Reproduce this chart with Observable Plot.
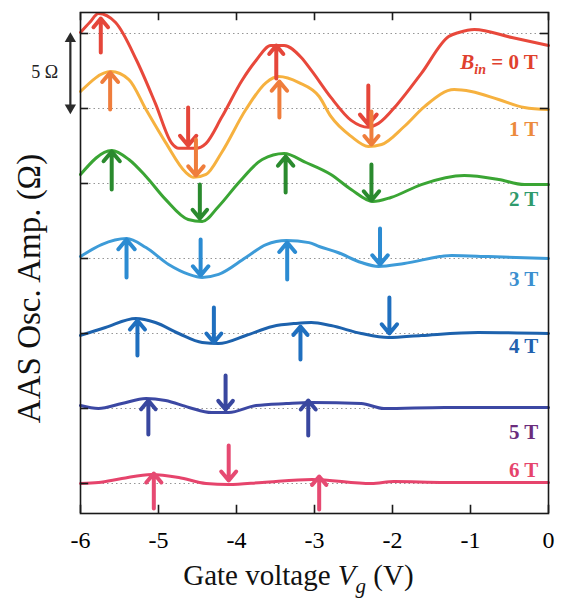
<!DOCTYPE html>
<html><head><meta charset="utf-8">
<script src="https://cdn.jsdelivr.net/npm/d3@7"></script>
<script src="https://cdn.jsdelivr.net/npm/@observablehq/plot@0.6"></script>
<style>body{margin:0;background:#fff}</style>
</head><body><div id="chart"></div>
<script>
// ---- data ----
const fields = ["0 T","1 T","2 T","3 T","4 T","5 T","6 T"];
const offsets = [30,25,20,15,10,5,0];           // vertical offset (Ω) of each trace
const xTicks = [-6,-5,-4,-3,-2,-1,0];
const lineColors  = ["#e8483b","#f6b13f","#3aa534","#3d9bd8","#1d62ad","#3c48a3","#e6446c"];
const arrowColors = ["#e5463a","#ef7d3c","#2a8a2e","#2b8bd2","#1f6fbf","#39479f","#e64a72"];
const labelColors = ["#e0402e","#ec8a3c","#2f9a6c","#3b8fcf","#2161ae","#6b2c7c","#e6446c"];
const labelRel = [-1.93,-1.4,-1.07,-1.4,-0.87,-1.6,0.87];
const labelX = -0.13;
const scaleBarOhm = [24.85, 29.85];
const scaleBarX = -6.13;
const xDomain = [-6, 0];
const yDomain = [-2, 31.4];
const tickLenX = 0.105;   // V  (inward tick length on y-axes)
const tickLenY = 0.55;    // Ω  (inward tick length on x-axes)

// traces: [Vg (V), amplitude relative to own baseline (Ω)]
const curve0 = [[-6,0.07],[-5.88,0.75],[-5.77,1.33],[-5.55,0.73],[-5.28,-1.8],[-5.04,-4.66],[-4.83,-7.32],[-4.74,-7.65],[-4.52,-7.65],[-4.39,-7.32],[-4.19,-5.59],[-3.93,-3.13],[-3.75,-1.8],[-3.56,-0.8],[-3.39,-0.8],[-3.17,-1.6],[-3.04,-2.46],[-2.79,-4.26],[-2.53,-5.79],[-2.31,-6.25],[-2.18,-5.99],[-1.93,-4.66],[-1.63,-2.66],[-1.28,-0.2],[-1.15,0.07],[-0.95,0.27],[-0.47,-0.27],[0,-0.8]];
const curve1 = [[-6,1.13],[-5.61,2.46],[-5.38,1.93],[-5.16,-0.07],[-4.91,-2.26],[-4.65,-4.26],[-4.55,-4.59],[-4.39,-4.39],[-4.19,-2.93],[-3.88,-0.07],[-3.62,1.73],[-3.46,2.13],[-3.2,1.73],[-2.94,0.8],[-2.79,-0.53],[-2.53,-1.86],[-2.31,-2.53],[-2.14,-2.4],[-1.85,-1.2],[-1.59,0.13],[-1.21,1.26],[-0.99,1.13],[-0.64,0.6],[-0.31,0.07],[0,-0.07]];
const curve2 = [[-6,0.6],[-5.6,2.2],[-5.38,1.6],[-5.16,0.47],[-4.91,-1.06],[-4.62,-2.4],[-4.44,-2.53],[-4.23,-1.53],[-3.97,0.07],[-3.67,1.6],[-3.39,2.0],[-3.11,1.4],[-2.79,0.6],[-2.53,-0.4],[-2.25,-1.2],[-2.02,-0.93],[-1.63,-0.07],[-1.08,0.53],[-0.64,0.27],[-0.31,-0.07],[0,-0.07]];
const curve3 = [[-6,0.13],[-5.73,0.93],[-5.41,1.33],[-5.16,0.73],[-4.87,-0.4],[-4.61,-1.06],[-4.44,-1.26],[-4.23,-1.06],[-3.88,0.07],[-3.62,0.93],[-3.36,1.2],[-3.07,1.06],[-2.94,0.8],[-2.7,0.4],[-2.4,-0.27],[-2.18,-0.53],[-1.85,-0.33],[-1.24,0.2],[-0.77,0.13],[0,0]];
const curve4 = [[-6,-0.13],[-5.68,0.4],[-5.29,1.0],[-5.04,0.73],[-4.74,0],[-4.44,-0.6],[-4.23,-0.67],[-3.88,-0.13],[-3.54,0.47],[-3.24,0.67],[-3.04,0.73],[-2.79,0.53],[-2.4,0],[-2.05,-0.27],[-1.63,-0.13],[-0.9,0.07],[0,0]];
const curve5 = [[-6,0.2],[-5.77,0],[-5.47,0.33],[-5.16,0.67],[-4.91,0.53],[-4.61,0.07],[-4.32,-0.27],[-4.1,-0.27],[-3.75,0.2],[-3.36,0.33],[-3.04,0.4],[-2.4,0.33],[-2.11,0],[-1.33,0.07],[0,0.07]];
const curve6 = [[-6,0],[-5.77,0.07],[-5.47,0.33],[-5.09,0.6],[-4.74,0.4],[-4.39,0],[-4.1,-0.07],[-3.67,0.07],[-3.03,0.27],[-2.27,0],[-1.98,0.13],[-1.33,0.07],[0,0.07]];

// arrows: [Vg (V), tail (Ω rel), tip (Ω rel)]
const arrows0 = [[-5.74,-1.27,1.0],[-3.49,-3.0,-0.8],[-4.62,-4.93,-7.47],[-2.31,-3.47,-6.07]];
const arrows1 = [[-5.62,-0.07,2.4],[-3.45,-0.6,1.8],[-4.52,-2.07,-4.47],[-2.27,-0.2,-2.4]];
const arrows2 = [[-5.6,-0.4,2.13],[-3.37,-0.6,1.8],[-4.47,-0.07,-2.33],[-2.27,1.27,-1.13]];
const arrows3 = [[-5.41,-1.27,1.27],[-3.35,-1.4,1.07],[-4.46,1.27,-1.13],[-2.16,2.0,-0.4]];
const arrows4 = [[-5.27,-1.47,0.87],[-3.18,-1.73,0.47],[-4.29,1.73,-0.6],[-2.04,2.4,0]];
const arrows5 = [[-5.13,-1.73,0.53],[-3.08,-1.8,0.53],[-4.14,2.2,-0.07]];
const arrows6 = [[-5.06,-1.67,0.67],[-2.94,-1.73,0.47],[-4.1,2.53,0.2]];

const curves = [curve0,curve1,curve2,curve3,curve4,curve5,curve6];
const arrowSets = [arrows0,arrows1,arrows2,arrows3,arrows4,arrows5,arrows6];

// ---- derived tables ----
const lineData = curves.flatMap((c,i)=>c.map(([v,a])=>({b:fields[i], V:v, amp:a+offsets[i], color:lineColors[i]})));
const arrowData = arrowSets.flatMap((s,i)=>s.map(([v,t,p])=>({b:fields[i], V:v, tail:t+offsets[i], tip:p+offsets[i], color:arrowColors[i]})));
const labelData = fields.slice(1).map((f,j)=>({t:f, y:offsets[j+1]+labelRel[j+1], color:labelColors[j+1]}));

const serif = "'Liberation Serif','Times New Roman',serif";
const axisInk = "#1a1a1a";

const plot = Plot.plot({
  width: 564, height: 601,
  marginLeft: 80, marginRight: 16, marginTop: 12, marginBottom: 88,
  style: {fontFamily: serif, background: "#fff", overflow: "visible"},
  x: {domain: xDomain},
  y: {domain: yDomain, axis: null},
  color: {type: "identity"},
  marks: [
    Plot.ruleY(offsets, {stroke: "#8a8a8a", strokeWidth: 0.9, strokeDasharray: "1.5,3"}),
    Plot.line(lineData, {x: "V", y: "amp", z: "b", stroke: "color", strokeWidth: 3, curve: "monotone-x"}),
    Plot.arrow(arrowData, {x1: "V", x2: "V", y1: "tail", y2: "tip", stroke: "color", strokeWidth: 4, headLength: 13, headAngle: 80}),
    Plot.text(labelData, {x: labelX, y: "y", text: "t", fill: "color", textAnchor: "end", fontSize: 21, fontWeight: "bold"}),
    Plot.frame({stroke: axisInk, strokeWidth: 1.6}),
    Plot.axisX({anchor: "bottom", ticks: xTicks, tickSize: 0, tickPadding: 17, tickFormat: d => String(d), fontSize: 24, label: null}),
    // inward ticks
    Plot.ruleX(xTicks, {x: d => d, y1: yDomain[0], y2: yDomain[0] + tickLenY, stroke: axisInk, strokeWidth: 1.6}),
    Plot.ruleX(xTicks, {x: d => d, y1: yDomain[1] - tickLenY, y2: yDomain[1], stroke: axisInk, strokeWidth: 1.6}),
    Plot.ruleY(offsets, {y: d => d, x1: xDomain[0], x2: xDomain[0] + tickLenX, stroke: axisInk, strokeWidth: 1.6}),
    Plot.ruleY(offsets.slice(0, 2), {y: d => d, x1: xDomain[1] - tickLenX, x2: xDomain[1], stroke: axisInk, strokeWidth: 1.6}),
    // scale bar
    Plot.link([scaleBarOhm], {x1: scaleBarX, x2: scaleBarX, y1: d => d[0], y2: d => d[1], stroke: "#2b2b2b", strokeWidth: 2.2}),
    Plot.dot([scaleBarOhm[1]], {x: scaleBarX, y: d => d, symbol: "triangle", r: 4.2, fill: "#2b2b2b", stroke: null, dy: 3}),
    Plot.dot([scaleBarOhm[0]], {x: scaleBarX, y: d => d, symbol: "triangle", r: 4.2, fill: "#2b2b2b", stroke: null, rotate: 180, dy: -3}),
    Plot.text(["5 Ω"], {x: -6.46, y: (scaleBarOhm[0]+scaleBarOhm[1])/2 + 0.05, text: d => d, fontSize: 18, fill: "#222"}),
    // y label
    Plot.text(["AAS Osc. Amp. (Ω)"], {x: -6.656, y: 13.0, text: d => d, rotate: -90, fontSize: 33, fill: "#111"})
  ]
});

const svg = d3.select(plot);
const xs = plot.scale("x"), ys = plot.scale("y");

// B_in = 0 T label
const bl = svg.append("text")
  .attr("x", xs.apply(labelX)).attr("y", ys.apply(offsets[0] + labelRel[0]))
  .attr("dy", "0.35em").attr("text-anchor", "end")
  .attr("font-family", serif).attr("font-size", 21).attr("font-weight", "bold")
  .attr("fill", labelColors[0]);
bl.append("tspan").attr("font-style", "italic").text("B");
bl.append("tspan").attr("font-style", "italic").attr("font-size", 14).attr("dy", 5).text("in");
bl.append("tspan").attr("dy", -5).text(" = 0 T");

// x axis title
const xl = svg.append("text")
  .attr("x", xs.apply(-3.2)).attr("y", ys.apply(-6.8))
  .attr("text-anchor", "middle")
  .attr("font-family", serif).attr("font-size", 29).attr("fill", "#111");
xl.append("tspan").text("Gate voltage ");
xl.append("tspan").attr("font-style", "italic").text("V");
xl.append("tspan").attr("font-style", "italic").attr("font-size", 21).attr("dy", 8).text("g");
xl.append("tspan").attr("dy", -8).text(" (V)");

document.getElementById("chart").appendChild(plot);
</script></body></html>
